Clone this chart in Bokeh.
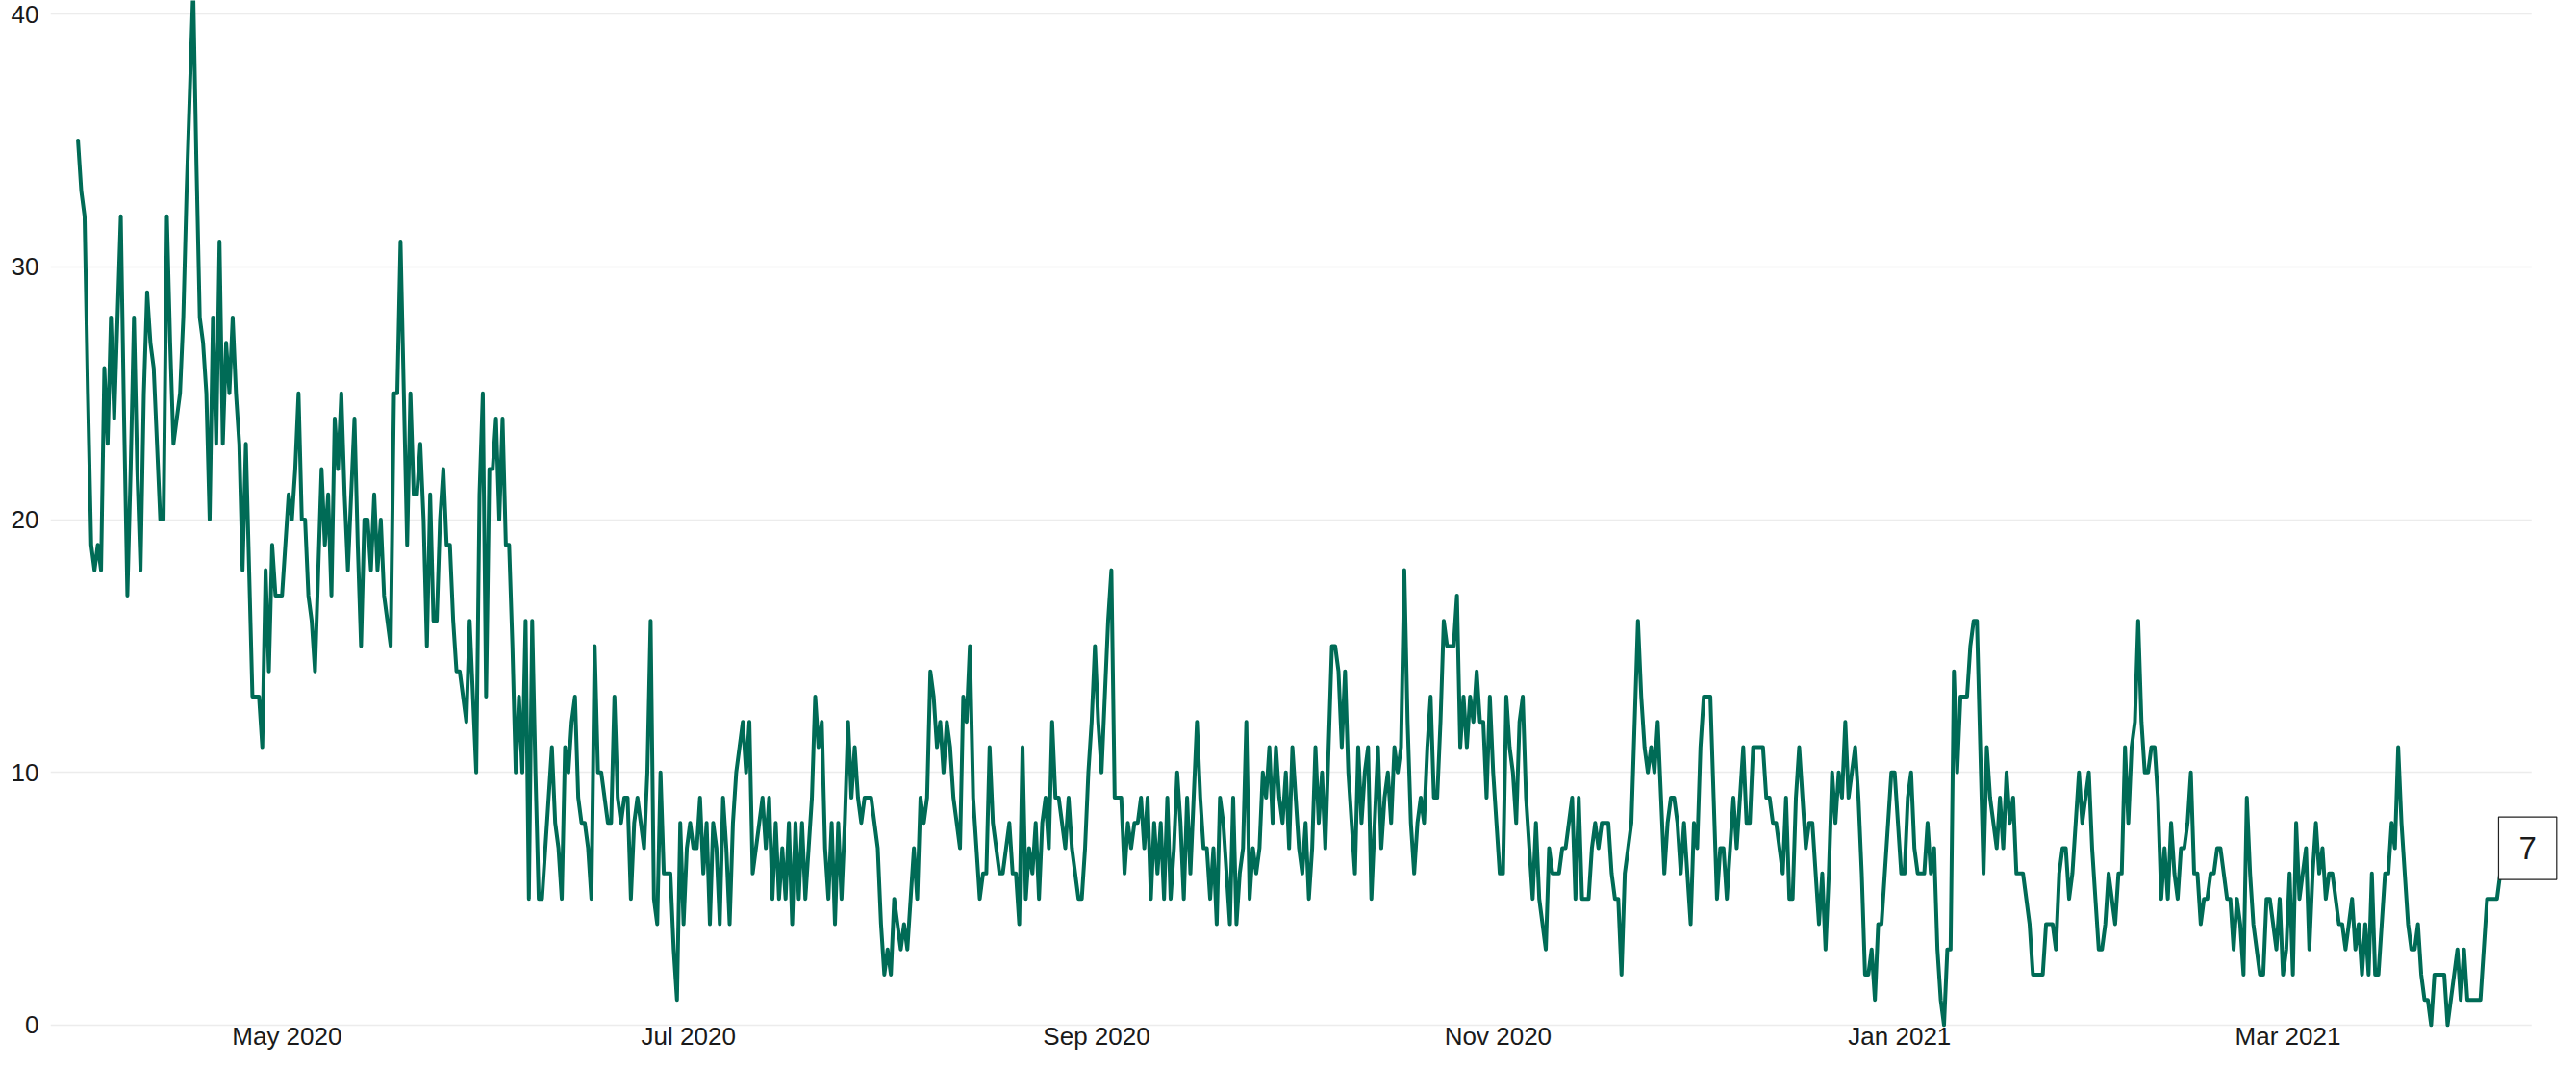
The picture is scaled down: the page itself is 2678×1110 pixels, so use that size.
import pandas as pd
from bokeh.plotting import figure
from bokeh.models import Range1d, FixedTicker, DatetimeTickFormatter, Label, ColumnDataSource, BoxAnnotation
from bokeh.embed import file_html
from bokeh.resources import INLINE

# twice-daily readings
start_time = "2020-03-30 06:00"
step = "12h"

seg_mar_apr = [35,33,32,25,19,18,19,18,26,23, 28,24,28,32,24,17,22,28,22,18,
               25,29,27,26,23,20,20,32,27,23, 24,25,28,33,37,41,34,28,27,25,
               20,28,23,31,23,27,25,28,25,23, 18,23,18,13,13,13,11,18]
seg_may = [14,19,17,17,17,19,21,20,22,25, 20,20,17,16,14,18,22,19,21,17,
           24,22,25,21,18,21,24,19,15,20, 20,18,21,18,20,17,16,15,25,25, 31,
           25,19,25,21,21,23,20,15,21,16,16,20,22,19,19,
           16,14,14,13,12,16,13,10,21,25,13,22,22,24,20,24,19,19]
seg_jun = [15,10,13,10,16,5,16,10,5,5, 7,9,11,8,7,5,11,10,12,13,
           9,8,8,7,5,15,10,10,9,8, 8,13,9,8,9,9,5,8,9,8,
           7,10,16,5,4,10,6,6,6,3, 1,8,4,7,8]
seg_jul = [7,7,9,6,8,4,8,7,4,9, 7,4,8,10,11,12,10,12,6,7,
           8,9,7,9,5,8,5,7,5,8, 4,8,5,8,5,7,9,13,11,12,
           7,5,8,4,8,5,8,12,9,11, 9,8,9,9,9,8,7,4,2]
seg_aug = [3,2,5,4,3,4,3,5,7,5, 9,8,9,14,13,11,12,10,12,11,
           9,8,7,13,12,15,9,7,5,6, 6,11,8,7,6,6,7,8,6,6,
           4,11,5,7,6,8,5,8,9,7, 12,9,9,8,7,9,7,6,5]
seg_sep = [5,7,10,12,15,12,10,13,16,18, 9,9,9,6,8,7,8,8,9,7,
           9,5,8,6,8,5,9,5,7,10, 8,5,9,6,9,12,9,7,7,5,
           7,4,9,8,6,4,9,4,6,7, 12,5,7,6,7,10,9,11,8]
seg_oct = [11,9,8,10,7,11,9,7,6,8, 5,7,11,8,10,7,11,15,15,14,
           11,14,10,8,6,11,8,10,11,5, 8,11,7,9,10,8,11,10,11,18,
           12,8,6,8,9,8,11,13,9,9, 12,16,15,15,15,17,11,13,11,13]
seg_nov = [12,14,12,12,9,13,10,8,6,6, 13,11,10,8,12,13,9,7,5,8,
           5,4,3,7,6,6,6,7,7,8, 9,5,9,5,5,5,7,8,7,8,
           8,8,6,5,5,2,6,7,8,12, 16,13,11,10,11,10,12,9,6,8, 9]
seg_dec = [9,8,6,8,6,4,8,7,11,13, 13,13,9,5,7,7,5,7,9,7,
           9,11,8,8,11,11,11,11,9,9, 8,8,7,6,9,5,5,9,11,9,
           7,8,8,6,4,6,3,6,10,8, 10,9,12,9,10,11,9,6,2]
seg_jan = [2,3,1,4,4,6,8,10,10,8, 6,6,9,10,7,6,6,6,8,6,
           7,3,1,0,3,3,14,10,13,13, 13,15,16,16,11,6,11,9,8,7,
           9,7,10,8,9,6,6,6,5,4, 2,2,2,2,4,4,4,3,6,7]
seg_feb = [7,5,6,8,10,8,9,10,7,5, 3,3,4,6,5,4,6,6,11,8,
           11,12,16,12,10,10,11,11,9,5, 7,5,8,6,5,7,7,8,10,6,
           6,4,5,5,6,6,7,7,6,5, 5,3,5,4,2,9,6,4,3,2]
seg_mar = [2,5,5,4,3,5,2,3,6,2, 8,5,6,7,3,6,8,6,7,5,
           6,6,5,4,4,3,4,5,3,4, 2,4,2,6,2,2,4,6,6,8,
           7,11,8,6,4,3,3,4,2,1, 1,0,2,2,2,2,0,1,2,3,
           1,3,1,1,1,1,1,3,5,5, 5,5,6,7]

values = (seg_mar_apr + seg_may + seg_jun + seg_jul + seg_aug + seg_sep +
          seg_oct + seg_nov + seg_dec + seg_jan + seg_feb + seg_mar)
dates = pd.date_range(start_time, periods=len(values), freq=step)

tick_dates = ["2020-05-01", "2020-07-01", "2020-09-01", "2020-11-01", "2021-01-01", "2021-03-01"]
y_ticks = [0, 10, 20, 30, 40]

source = ColumnDataSource(dict(date=dates, value=values))

p = figure(width=2662, height=1094, x_axis_type="datetime",
           output_backend="svg", toolbar_location=None,
           min_border_left=52, min_border_right=0, min_border_top=0, min_border_bottom=0)
p.x_range = Range1d(dates[0] - pd.Timedelta(days=4.18), dates[-1] + pd.Timedelta(days=8.75))
p.y_range = Range1d(-0.077, 40.54)

p.line("date", "value", source=source, line_color="#006b56", line_width=4,
       line_join="round", line_cap="round")

font = "Liberation Sans"
p.xaxis.ticker = FixedTicker(ticks=[pd.Timestamp(d).value // 10**6 for d in tick_dates])
fmt = "%b %Y"
p.xaxis.formatter = DatetimeTickFormatter(milliseconds=fmt, seconds=fmt, minsec=fmt, minutes=fmt,
                                          hourmin=fmt, hours=fmt, days=fmt, months=fmt, years=fmt)
p.yaxis.ticker = FixedTicker(ticks=y_ticks)
for ax in (p.xaxis, p.yaxis):
    ax.axis_line_color = None
    ax.major_tick_line_color = None
    ax.minor_tick_line_color = None
    ax.major_tick_out = 0
    ax.major_tick_in = 0
    ax.minor_tick_out = 0
    ax.minor_tick_in = 0
    ax.axis_label_standoff = 0
    ax.major_label_text_font = font
    ax.major_label_text_font_size = "26px"
    ax.major_label_text_color = "#1a1a1a"
p.xaxis.major_label_standoff = -6
p.yaxis.major_label_standoff = 12

p.xgrid.grid_line_color = None
p.ygrid.grid_line_color = "#ececec"
p.ygrid.grid_line_width = 1.5
p.outline_line_color = None
p.background_fill_color = "white"
p.border_fill_color = "white"

# plain white margin to the right of the plotting area (gridlines stop there)
margin = BoxAnnotation(left=dates[-1] + pd.Timedelta(days=4.25), fill_color="white",
                       fill_alpha=1.0, line_color=None)
p.add_layout(margin)

last = Label(x=dates[-1].value / 1e6, y=values[-1], text=str(values[-1]),
             x_offset=25, text_align="center", text_baseline="middle",
             text_font=font, text_font_size="33px", text_color="#1a1a1a",
             border_line_color="#222222", border_line_width=1.2,
             background_fill_color="white",
             padding=dict(left=21, right=21, top=21, bottom=21))
p.add_layout(last)

open("out.html", "w").write(file_html(p, INLINE))
